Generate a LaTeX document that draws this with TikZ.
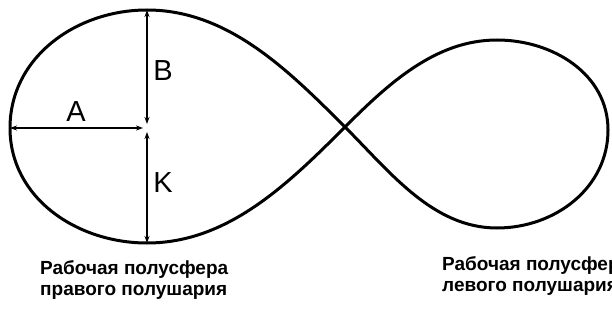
\documentclass[tikz,border=0pt]{standalone}
\usepackage{fontspec}
\setmainfont{Liberation Sans}
\usetikzlibrary{arrows.meta, positioning}

\begin{document}
\begin{tikzpicture}[x=1pt, y=1pt,
    loop/.style={line width=3pt, line join=round},
    dim/.style={line width=1.3pt, {Stealth[length=7pt,width=5pt]}-{Stealth[length=7pt,width=5pt]}},
    lbl/.style={font=\fontsize{29}{29}\selectfont, inner sep=0pt},
    caption/.style={font=\bfseries\fontsize{19}{21}\selectfont, align=left, anchor=base west, inner sep=0pt}]
    \useasboundingbox (0,0) rectangle (612,327);
    % points of the figure eight
    \coordinate (cross) at (345,200);
    \coordinate (ltop) at (147,317);
    \coordinate (lleft) at (10,199);
    \coordinate (lbot) at (147,84);
    \coordinate (rtop) at (497,287);
    \coordinate (rright) at (608,197);
    \coordinate (rbot) at (497,99);
    \coordinate (mid) at (147,199);
    \draw[loop] (cross) to[out=135, in=0, looseness=0.9] (ltop)
        to[out=180, in=90] (lleft)
        to[out=-90, in=180] (lbot)
        to[out=0, in=-135, looseness=0.9] (cross)
        to[out=45, in=180, looseness=0.9] (rtop)
        to[out=0, in=90] (rright)
        to[out=-90, in=0] (rbot)
        to[out=180, in=-45, looseness=0.9] (cross);
    % dimension arrows
    \draw[dim, shorten >=4pt] (ltop) -- (mid);
    \draw[dim, shorten >=4pt] (lbot) -- (mid);
    \draw[dim, shorten >=4pt] (lleft) -- (mid);
    \node[lbl] (b) at (163,256.5) {B};
    \node[lbl] (a) at (76,215) {A};
    \node[lbl] (k) at (163,144) {K};
    % captions (anchored at the last line)
    \foreach \pos/\txt in {
        {(40,32)}/{Рабочая полусфера\\правого полушария},
        {(442,36)}/{Рабочая полусфера\\левого полушария}}
    {
        \node[caption] at \pos {\txt};
    }
\end{tikzpicture}
\end{document}
